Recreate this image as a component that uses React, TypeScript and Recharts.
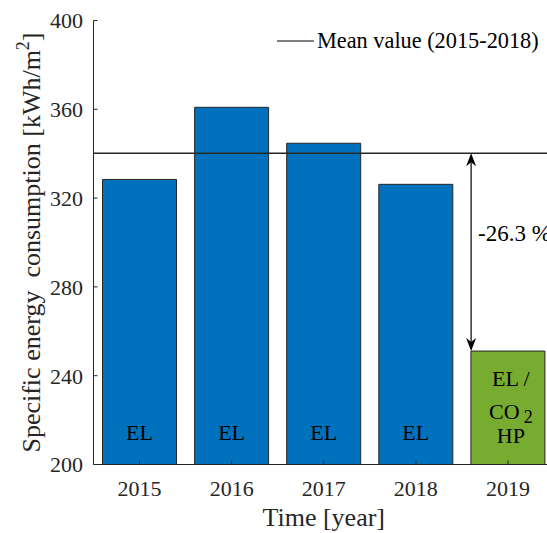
import React from 'react';
import { ComposedChart, Bar, XAxis, YAxis, ReferenceLine, Cell, LabelList, Legend } from 'recharts';

const years = [2015, 2016, 2017, 2018, 2019];
const consumption = [328.4, 360.9, 344.7, 326.2, 251.1];
const systemLines: string[][] = [['EL'], ['EL'], ['EL'], ['EL'], ['EL /', 'CO2', 'HP']];
const meanValue = 340.2;
const yTicks = [200, 240, 280, 320, 360, 400];
const reductionLabel = '-26.3 %';
const legendLabel = 'Mean value (2015-2018)';
const xTitle = 'Time [year]';
const arrowYear = 2018.6;

const FONT = '"Liberation Serif", "Times New Roman", serif';
const AX = '#262626';
const BLUE = '#0072BD';
const GREEN = '#77AC30';

const data = years.map((y, i) => ({ year: y, value: consumption[i], idx: i }));

const renderYLabel = (props: any) => {
  const vb = props.viewBox || { x: 0, y: 20.5, width: 93.5, height: 444 };
  const cy = vb.y + vb.height / 2;
  const x = 40;
  return (
    <text x={x} y={cy} transform={`rotate(-90 ${x} ${cy})`} textAnchor="middle" fontFamily={FONT} fontSize={26} fill={AX} style={{ whiteSpace: 'pre' }}>
      <tspan>{'Specific energy  consumption [kWh/m'}</tspan>
      <tspan fontSize={18} dy={-11}>2</tspan>
      <tspan dy={11}>]</tspan>
    </text>
  );
};

const renderXLabel = (props: any) => {
  const vb = props.viewBox || { x: 93.5, y: 464.5, width: 460, height: 68.5 };
  return (
    <text x={vb.x + vb.width / 2} y={526} textAnchor="middle" fontFamily={FONT} fontSize={26} fill={AX}>
      {xTitle}
    </text>
  );
};

const renderSystemLabel = (props: any) => {
  const { x, y, width, height, index } = props;
  const lines = systemLines[index] || [];
  const cx = x + width / 2;
  const bottom = y + height;
  if (lines.length === 1) {
    return (
      <text x={cx} y={bottom - 32} dy="0.35em" textAnchor="middle" fontFamily={FONT} fontSize={22} fill="#000">
        {lines[0]}
      </text>
    );
  }
  const offsets = [-86, -53, -29];
  return (
    <g>
      {lines.map((ln, k) => {
        const m = ln.match(/^([A-Za-z]+)(\d)$/);
        return (
          <text key={k} x={cx + 3} y={bottom + offsets[k]} dy="0.35em" textAnchor="middle" fontFamily={FONT} fontSize={22} fill="#000">
            {m ? (
              <>
                <tspan>{m[1]}</tspan>
                <tspan dx={4} dy={4} fontSize={18}>{m[2]}</tspan>
              </>
            ) : ln}
          </text>
        );
      })}
    </g>
  );
};

const arrowShape = (props: any) => {
  const { x1, y1, x2, y2 } = props;
  const top = Math.min(y1, y2);
  const bot = Math.max(y1, y2);
  const L = 13;
  const W = 5;
  const N = 9;
  return (
    <g>
      <line x1={x1} y1={top + 4} x2={x2} y2={bot - 4} stroke="#000" strokeWidth={1.2} />
      <path d={`M${x1},${top} L${x1 + W},${top + L} L${x1},${top + N} L${x1 - W},${top + L} Z`} fill="#000" />
      <path d={`M${x1},${bot} L${x1 + W},${bot - L} L${x1},${bot - N} L${x1 - W},${bot - L} Z`} fill="#000" />
      <text x={x1 + 7} y={(top + bot) / 2 - 11} fontFamily={FONT} fontSize={23} fill="#000">
        {reductionLabel}
      </text>
    </g>
  );
};

const legendContent = () => (
  <svg width={290} height={30} style={{ display: 'block', overflow: 'visible' }}>
    <line x1={1} y1={13} x2={38} y2={13} stroke="#000" strokeWidth={1.2} />
    <text x={41} y={20} fontFamily={FONT} fontSize={22.3} fill="#000">
      {legendLabel}
    </text>
  </svg>
);

export default function App() {
  return (
    <div style={{ position: 'absolute', left: 0, top: 0, width: 547, height: 533, overflow: 'hidden', background: '#fff' }}>
      <ComposedChart width={554} height={533} data={data} margin={{ top: 20.5, right: 0, bottom: 0, left: 0 }}>
        <Bar dataKey="value" barSize={74} stroke={AX} strokeWidth={1} isAnimationActive={false}>
          {data.map((d, i) => (
            <Cell key={i} fill={i === years.length - 1 ? GREEN : BLUE} />
          ))}
          <LabelList dataKey="value" content={renderSystemLabel} />
        </Bar>
        <ReferenceLine y={meanValue} stroke={AX} strokeWidth={1.3} ifOverflow="visible" />
        <ReferenceLine
          segment={[{ x: arrowYear, y: meanValue }, { x: arrowYear, y: consumption[4] }]}
          shape={arrowShape}
          ifOverflow="visible"
        />
        <XAxis
          dataKey="year"
          type="number"
          domain={[2014.5, 2019.5]}
          ticks={years}
          allowDataOverflow
          height={68.5}
          tickSize={-4}
          tickMargin={20}
          stroke={AX}
          tickLine={{ stroke: AX }}
          axisLine={{ stroke: AX }}
          tick={{ fill: AX, fontSize: 22, fontFamily: FONT }}
          label={{ content: renderXLabel }}
        />
        <XAxis
          xAxisId="top"
          orientation="top"
          dataKey="year"
          type="number"
          domain={[2014.5, 2019.5]}
          ticks={years}
          allowDataOverflow
          height={0}
          tickSize={-4}
          tick={false}
          stroke={AX}
          axisLine={{ stroke: AX }}
          tickLine={{ stroke: AX }}
        />
        <YAxis
          type="number"
          domain={[200, 400]}
          ticks={yTicks}
          allowDataOverflow
          width={93.5}
          tickSize={-4}
          tickMargin={14.5}
          stroke={AX}
          tickLine={{ stroke: AX }}
          axisLine={{ stroke: AX }}
          tick={{ fill: AX, fontSize: 22, fontFamily: FONT }}
          label={{ content: renderYLabel }}
        />
        <Legend
          layout="vertical"
          align="center"
          verticalAlign="middle"
          content={legendContent}
          wrapperStyle={{ position: 'absolute', left: 276, top: 28, width: 290, height: 30 }}
        />
      </ComposedChart>
    </div>
  );
}
